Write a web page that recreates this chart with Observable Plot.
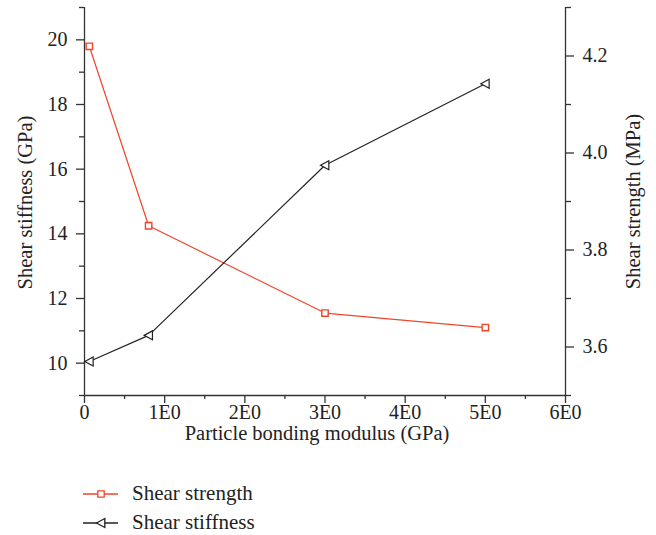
<!DOCTYPE html>
<html>
<head>
<meta charset="utf-8">
<script src="https://cdn.jsdelivr.net/npm/d3@7"></script>
<script src="https://cdn.jsdelivr.net/npm/@observablehq/plot@0.6"></script>
<style>
  body { margin: 0; background: #fff; }
  #chart { width: 656px; }
  .legend { font-family: "Liberation Serif", serif; font-size: 21px; color: #222; }
  .legend-row { display: flex; align-items: center; height: 29px; }
</style>
</head>
<body>
<div id="chart"></div>
<script>
// ---- data ----
const modulus = [0.06, 0.8, 3, 5];                 // Particle bonding modulus (GPa)
const shearStrength = [4.22, 3.85, 3.67, 3.64];    // MPa (right axis)
const shearStiffness = [10.05, 10.86, 16.12, 18.64]; // GPa (left axis)
const xTicks = [0, 1, 2, 3, 4, 5, 6];
const xTickLabels = ["0", "1E0", "2E0", "3E0", "4E0", "5E0", "6E0"];
const leftTicks = [10, 12, 14, 16, 18, 20];
const rightTicks = [3.6, 3.8, 4.0, 4.2];
const seriesNames = ["Shear strength", "Shear stiffness"];
const seriesColors = ["#f0452b", "#222222"];

const leftDomain = [9, 21];
const rightDomain = [3.5, 4.3];
const toLeft = v => leftDomain[0] + (v - rightDomain[0]) * (leftDomain[1] - leftDomain[0]) / (rightDomain[1] - rightDomain[0]);
const fromLeft = v => rightDomain[0] + (v - leftDomain[0]) * (rightDomain[1] - rightDomain[0]) / (leftDomain[1] - leftDomain[0]);

const strengthData = modulus.map((x, i) => ({x, y: toLeft(shearStrength[i])}));
const stiffnessData = modulus.map((x, i) => ({x, y: shearStiffness[i]}));

const triLeft = {draw(context, size) {
  const r = Math.sqrt(size / Math.PI);
  context.moveTo(-r, 0);
  context.lineTo(r * 0.85, -r);
  context.lineTo(r * 0.85, r);
  context.closePath();
}};
const squareSym = {draw(context, size) {
  const r = Math.sqrt(size / Math.PI);
  context.rect(-r, -r, 2 * r, 2 * r);
}};

const xMinor = d3.range(0.5, 6, 1);
const leftMinor = d3.range(9, 21.5, 2);
const rightMinor = [3.5, 3.7, 3.9, 4.1, 4.3];

const font = "Liberation Serif";
const fs = 20;
const fsTitle = 20.5;
const axisColor = "#333";

const plot = Plot.plot({
  width: 656,
  height: 465,
  marginLeft: 84,
  marginRight: 91,
  marginTop: 7,
  marginBottom: 70,
  style: {fontFamily: font, fontSize: fs + "px", color: "#222", background: "#fff"},
  x: {domain: [0, 6]},
  y: {domain: leftDomain},
  marks: [
    // frame lines
    Plot.ruleX([0, 6], {y1: leftDomain[0], y2: leftDomain[1], stroke: axisColor, strokeWidth: 1.3}),
    Plot.ruleY([leftDomain[0]], {x1: 0, x2: 6, stroke: axisColor, strokeWidth: 1.3}),
    // x axis
    Plot.axisX({ticks: xTicks, tickSize: 8, tickPadding: 1, tickFormat: d => xTickLabels[xTicks.indexOf(d)], label: null, stroke: axisColor, strokeWidth: 1.3, fontSize: fs}),
    Plot.axisX({ticks: xMinor, tickSize: 4, tickFormat: () => "", label: null, stroke: axisColor, strokeWidth: 1.3}),
    // left y axis
    Plot.axisY({ticks: leftTicks, tickSize: 8, tickPadding: 9, tickFormat: d => String(d), label: null, stroke: axisColor, strokeWidth: 1.3, fontSize: fs}),
    Plot.axisY({ticks: leftMinor, tickSize: 5, tickFormat: () => "", label: null, stroke: axisColor, strokeWidth: 1.3}),
    // right y axis
    Plot.axisY({anchor: "right", ticks: rightTicks.map(toLeft), tickSize: 8, tickPadding: 9, tickFormat: d => fromLeft(d).toFixed(1), label: null, stroke: axisColor, strokeWidth: 1.3, fontSize: fs}),
    Plot.axisY({anchor: "right", ticks: rightMinor.map(toLeft), tickSize: 5, tickFormat: () => "", label: null, stroke: axisColor, strokeWidth: 1.3}),
    // axis titles
    Plot.text(["Particle bonding modulus (GPa)"], {frameAnchor: "bottom", dy: 38, dx: -8, textAnchor: "middle", lineAnchor: "middle", fontSize: fsTitle, fill: "#222"}),
    Plot.text(["Shear stiffness (GPa)"], {frameAnchor: "left", dx: -59, dy: 1, rotate: -90, textAnchor: "middle", lineAnchor: "middle", fontSize: fsTitle, fill: "#222"}),
    Plot.text(["Shear strength (MPa)"], {frameAnchor: "right", dx: 68, dy: 0, rotate: -90, textAnchor: "middle", lineAnchor: "middle", fontSize: fsTitle, fill: "#222"}),
    // series
    Plot.line(strengthData, {x: "x", y: "y", stroke: seriesColors[0], strokeWidth: 1.2}),
    Plot.dot(strengthData, {x: "x", y: "y", symbol: squareSym, r: 3.2, stroke: seriesColors[0], fill: "#fff", strokeWidth: 1.4}),
    Plot.line(stiffnessData, {x: "x", y: "y", stroke: seriesColors[1], strokeWidth: 1.2}),
    Plot.dot(stiffnessData, {x: "x", y: "y", symbol: triLeft, r: 4.5, stroke: seriesColors[1], fill: "#fff", strokeWidth: 1.2})
  ]
});
document.getElementById("chart").appendChild(plot);

// legend below the chart
const legend = d3.select("#chart").append("div").attr("class", "legend").style("margin-top", "14px");
seriesNames.forEach((name, i) => {
  const row = legend.append("div").attr("class", "legend-row");
  const sw = row.append("svg").attr("width", 132).attr("height", 20);
  sw.append("line").attr("x1", 83).attr("x2", 118).attr("y1", 10).attr("y2", 10)
    .attr("stroke", seriesColors[i]).attr("stroke-width", 1.3);
  const sym = i === 0 ? squareSym : triLeft;
  const r = i === 0 ? 3.2 : 4.5;
  const p = d3.path();
  sym.draw(p, Math.PI * r * r);
  sw.append("path").attr("d", p.toString()).attr("transform", "translate(101,10)")
    .attr("stroke", seriesColors[i]).attr("fill", "#fff").attr("stroke-width", 1.3);
  row.append("span").text(name);
});
</script>
</body>
</html>
